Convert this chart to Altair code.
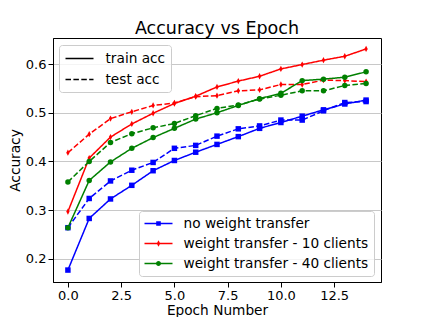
import altair as alt
import pandas as pd

epochs = list(range(15))
nwt_train = [0.177, 0.283, 0.323, 0.351, 0.381, 0.402, 0.419, 0.435, 0.451, 0.468, 0.480, 0.493, 0.506, 0.518, 0.526]
nwt_test = [0.264, 0.324, 0.360, 0.382, 0.398, 0.427, 0.433, 0.452, 0.467, 0.473, 0.485, 0.485, 0.504, 0.521, 0.523]
wt10_train = [0.297, 0.407, 0.450, 0.477, 0.499, 0.519, 0.534, 0.553, 0.565, 0.575, 0.590, 0.599, 0.608, 0.616, 0.631]
wt10_test = [0.418, 0.456, 0.488, 0.502, 0.515, 0.520, 0.533, 0.535, 0.545, 0.547, 0.558, 0.558, 0.567, 0.566, 0.564]
wt40_train = [0.264, 0.361, 0.399, 0.427, 0.449, 0.468, 0.487, 0.500, 0.515, 0.529, 0.540, 0.566, 0.569, 0.573, 0.584]
wt40_test = [0.358, 0.400, 0.439, 0.457, 0.469, 0.478, 0.494, 0.509, 0.516, 0.528, 0.536, 0.545, 0.545, 0.556, 0.560]

series_names = ["no weight transfer", "weight transfer - 10 clients", "weight transfer - 40 clients"]
kinds = ["train acc", "test acc"]
colors = ["#0000ff", "#ff0000", "#008000"]
marker_shapes = ["square", "M0,-1.15L0.62,0L0,1.15L-0.62,0Z", "circle"]

rows = []
for name, tr, te in zip(series_names, [nwt_train, wt10_train, wt40_train],
                        [nwt_test, wt10_test, wt40_test]):
    for e, v in zip(epochs, tr):
        rows.append({"epoch": e, "acc": v, "model": name, "kind": "train acc"})
    for e, v in zip(epochs, te):
        rows.append({"epoch": e, "acc": v, "model": name, "kind": "test acc"})
df = pd.DataFrame(rows)

FONT = "DejaVu Sans"

# legend glyphs (unit = 7 px): a 28 px line with the series' marker in its middle
bar = "M-1,-0.11H3V0.11H-1Z"
legend_glyphs = [
    bar + "M0.67,-0.33H1.33V0.33H0.67Z",
    bar + "M1,-0.45L1.25,0L1,0.45L0.75,0Z",
    bar + "M0.64,0A0.36,0.36 0 1,1 1.36,0A0.36,0.36 0 1,1 0.64,0Z",
]

x = alt.X("epoch:Q",
          scale=alt.Scale(domain=[-0.7, 14.7], nice=False, zero=False),
          axis=alt.Axis(values=[0, 2.5, 5, 7.5, 10, 12.5], format=".1f",
                        title="Epoch Number", grid=False,
                        labelBaseline="alphabetic", labelPadding=12,
                        titleBaseline="alphabetic", titleY=32))
y = alt.Y("acc:Q",
          scale=alt.Scale(domain=[0.1525, 0.6535], nice=False, zero=False),
          axis=alt.Axis(values=[0.2, 0.3, 0.4, 0.5, 0.6], format=".1f",
                        title="Accuracy", grid=True))

color_legend = alt.Legend(title=None, orient="none", legendX=86, legendY=173,
                          symbolSize=196, symbolStrokeWidth=0)
color = alt.Color("model:N", scale=alt.Scale(domain=series_names, range=colors),
                  legend=color_legend)

dash = alt.StrokeDash("kind:N",
                      scale=alt.Scale(domain=kinds, range=[[1, 0], [5.5, 2.4]]),
                      legend=alt.Legend(title=None, orient="none", legendX=6, legendY=7,
                                        symbolType="M-1,0H3", symbolSize=196,
                                        symbolStrokeColor="black", symbolStrokeWidth=1.5))

# empty layer that only carries the series legend (colour + glyph)
legend_layer = alt.Chart(df).transform_filter("false").mark_point(
    filled=True, opacity=1).encode(
    x=x, y=y, color=color,
    shape=alt.Shape("model:N", scale=alt.Scale(domain=series_names, range=legend_glyphs),
                    legend=color_legend))

lines = alt.Chart(df).mark_line(strokeWidth=1.5).encode(
    x=x, y=y, color=color, strokeDash=dash, detail="kind:N")

point_layers = []
for name, shp in zip(series_names, marker_shapes):
    point_layers.append(
        alt.Chart(df).transform_filter(alt.datum.model == name).mark_point(
            filled=True, size=30, opacity=1, shape=shp).encode(x=x, y=y, color=color))

chart = alt.layer(legend_layer, lines, *point_layers).properties(
    width=328, height=244,
    title=alt.TitleParams("Accuracy vs Epoch", font=FONT, fontSize=17.5, fontWeight="normal",
                          color="black", offset=1, anchor="middle"),
    autosize=alt.AutoSizeParams(type="none"),
    padding={"left": 53, "top": 38, "right": 42, "bottom": 35},
).configure_view(stroke="black", strokeWidth=1).configure_axis(
    labelFont=FONT, titleFont=FONT, labelFontSize=13, titleFontSize=13.7,
    titleFontWeight="normal", labelColor="black", titleColor="black",
    domainColor="black", tickColor="black", tickSize=5, labelPadding=2,
    gridColor="#c8c8c8", gridWidth=1, titlePadding=3,
).configure_legend(
    labelFont=FONT, labelFontSize=13.7, labelColor="black", labelOffset=25,
    labelLimit=400, fillColor="rgba(255,255,255,0.8)", strokeColor="#cccccc",
    cornerRadius=3, padding=5.5, rowPadding=6,
)

chart.save("out.html", embed_options={"renderer": "svg", "actions": False})
